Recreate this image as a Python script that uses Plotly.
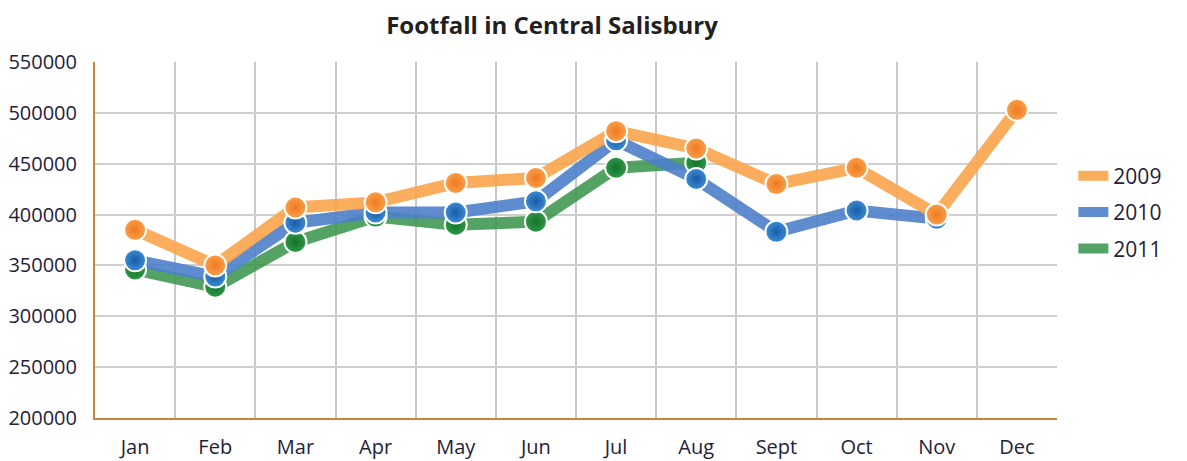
import plotly.graph_objects as go

months = ['Jan', 'Feb', 'Mar', 'Apr', 'May', 'Jun', 'Jul', 'Aug', 'Sept', 'Oct', 'Nov', 'Dec']

footfall_2009 = [385000, 350000, 407000, 412000, 431000, 436000, 482000, 465000, 430000, 446000, 400000, 503000]
footfall_2010 = [355000, 339000, 392000, 402000, 402000, 413000, 473000, 435000, 383000, 404000, 396000]
footfall_2011 = [346000, 329000, 373000, 398000, 390000, 393000, 446000, 451000]

series = [
    # name, values, line colour, marker colour, marker gradient
    ('2011', footfall_2011, 'rgba(62,150,78,0.88)', '#2E9A48', '#14722C'),
    ('2010', footfall_2010, 'rgba(76,128,202,0.9)', '#3C8ED6', '#1A5AA6'),
    ('2009', footfall_2009, 'rgba(250,166,78,0.92)', '#FBA04A', '#EE7A22'),
]

fig = go.Figure()

for name, vals, line_col, mk_col, mk_grad in series:
    fig.add_trace(go.Scatter(
        x=months[:len(vals)], y=vals,
        name=name, mode='lines',
        line=dict(color=line_col, width=12),
        legendgroup=name,
        legendrank={'2009': 1, '2010': 2, '2011': 3}[name],
    ))

for name, vals, line_col, mk_col, mk_grad in series:
    fig.add_trace(go.Scatter(
        x=months[:len(vals)], y=vals,
        name=name, mode='markers', showlegend=False,
        legendgroup=name,
        marker=dict(size=22, color=mk_col,
                    gradient=dict(type='radial', color=mk_grad),
                    line=dict(color='white', width=2)),
    ))

font_main = "Open Sans"

# the page body adds an 8px margin, so size and margins are adjusted for it
fig.update_layout(
    width=1171, height=453,
    margin=dict(l=87, r=119, t=54, b=43),
    paper_bgcolor='white', plot_bgcolor='white',
    font=dict(family=font_main, size=20, color='#1F2238'),
    title=dict(text="<b>Footfall in Central Salisbury</b>",
               x=0.4646, xanchor='center', y=0.962, yanchor='middle',
               font=dict(family=font_main, size=24, color='#231F20')),
    legend=dict(x=1.017, xanchor='left', y=0.737, yanchor='top',
                traceorder='grouped', tracegroupgap=6,
                font=dict(size=21, color='#1F2238')),
    showlegend=True,
)

fig.update_xaxes(
    type='category', categoryarray=months, range=[-0.5, 11.5],
    tickson='boundaries', ticks='', showgrid=True,
    gridcolor='#C9C9C9', gridwidth=2,
    showline=True, linecolor='#C8843E', linewidth=2,
    ticklabelstandoff=10, automargin=False,
)
fig.update_yaxes(
    range=[200000, 550000], dtick=50000, tickformat='d',
    showgrid=True, gridcolor='#CFCFCF', gridwidth=1.5,
    showline=True, linecolor='#C8843E', linewidth=2,
    ticks='', ticklabelstandoff=12, zeroline=False, automargin=False,
)

fig.write_html("out.html")
